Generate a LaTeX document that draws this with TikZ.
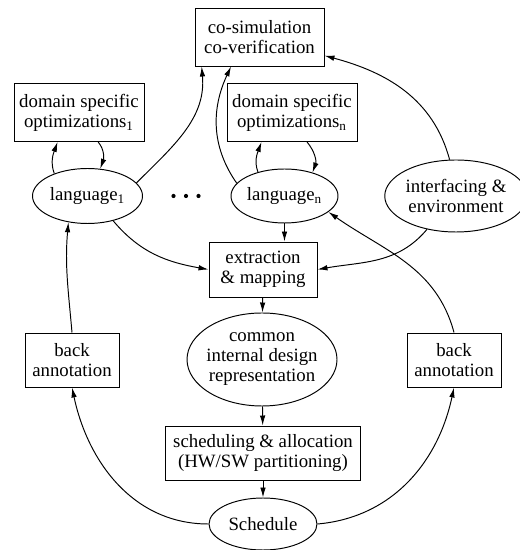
\documentclass[tikz,border=0pt]{standalone}
\usepackage{fontspec}
\setmainfont{Liberation Serif}
\usepackage{tikz}
\usetikzlibrary{arrows.meta,shapes.geometric}

\tikzset{
  box/.style={draw, rectangle, align=center, inner sep=2pt},
  oval/.style={draw, ellipse, align=center, inner sep=0pt},
  link/.style={-{Latex[length=2mm,width=1.1mm]}},
}

\begin{document}
\begin{tikzpicture}[line width=0.55pt, every node/.style={font=\fontsize{10.7}{11.4}\selectfont}]
    \useasboundingbox (0,0) rectangle (10.38,11);

    % top row
    \node[box, minimum width=2.58cm, minimum height=1.16cm] (cosim) at (5.19,10.26) {co-simulation\\co-verification};
    \node[box, minimum width=2.60cm, minimum height=1.16cm] (dso1) at (1.58,8.75) {domain specific\\optimizations\textsubscript{1}};
    \node[box, minimum width=2.60cm, minimum height=1.16cm] (dson) at (5.84,8.75) {domain specific\\optimizations\textsubscript{n}};

    % languages
    \node[oval, minimum width=2.20cm, minimum height=1.10cm] (lang1) at (1.75,7.08) {language\textsubscript{1}};
    \node[oval, minimum width=2.14cm, minimum height=1.08cm] (langn) at (5.69,7.08) {language\textsubscript{n}};
    \node[oval, minimum width=2.56cm, minimum height=1.44cm] (iface) at (9.12,7.08) {interfacing \&\\environment};
    \foreach \x in {3.47,3.72,3.97}
        \fill (\x,7.08) circle (0.042);

    % middle column
    \node[box, minimum width=2.16cm, minimum height=1.10cm] (extr) at (5.26,5.61) {extraction\\\& mapping};
    \node[oval, inner sep=-2pt, minimum width=3.00cm, minimum height=1.86cm] (common) at (5.24,3.81) {common\\internal design\\representation};
    \node[box, minimum width=3.90cm, minimum height=1.08cm] (sched) at (5.26,1.94) {scheduling \& allocation\\(HW/SW partitioning)};
    \node[oval, minimum width=2.16cm, minimum height=1.04cm] (schedule) at (5.26,0.52) {Schedule};

    % back annotation
    \node[box, minimum width=1.88cm, minimum height=1.08cm] (backl) at (1.44,3.80) {back\\annotation};
    \node[box, minimum width=1.88cm, minimum height=1.08cm] (backr) at (9.08,3.80) {back\\annotation};

    % loops to the optimizations
    \draw[link] (lang1.146) to[out=110,in=-110] (dso1.234);
    \draw[link] (dso1.-57) to[out=-50,in=70] (lang1.65);
    \draw[link] (langn.138) to[out=110,in=-110] (dson.224);
    \draw[link] (dson.-63) to[out=-50,in=70] (langn.40);

    % to co-simulation
    \draw[link] (lang1.15) to[out=45,in=-85] (cosim.207);
    \draw[link] (langn.165) to[out=125,in=-115] (cosim.226);
    \draw[link] (iface.100) to[out=105,in=-15] (cosim.-16);

    % to extraction
    \draw[link] (langn.south) -- (langn.south |- extr.north);
    \draw[link] (lang1.-44) to[out=-50,in=170] (extr.west);
    \draw[link] (iface.229) to[out=-130,in=10] (extr.east);

    % flow down
    \draw[link] (extr) -- (common);
    \draw[link] (common) -- (sched);
    \draw[link] (sched) -- (schedule);

    % feedback
    \draw[link] (schedule.west) to[out=180,in=-78] (backl.south);
    \draw[link] (schedule.east) to[out=5,in=-102] (backr.south);
    \draw[link] (backl.north) to[out=95,in=-95] (lang1.234);
    \draw[link] (backr.north) to[out=105,in=-35] (langn.-20);
\end{tikzpicture}
\end{document}
